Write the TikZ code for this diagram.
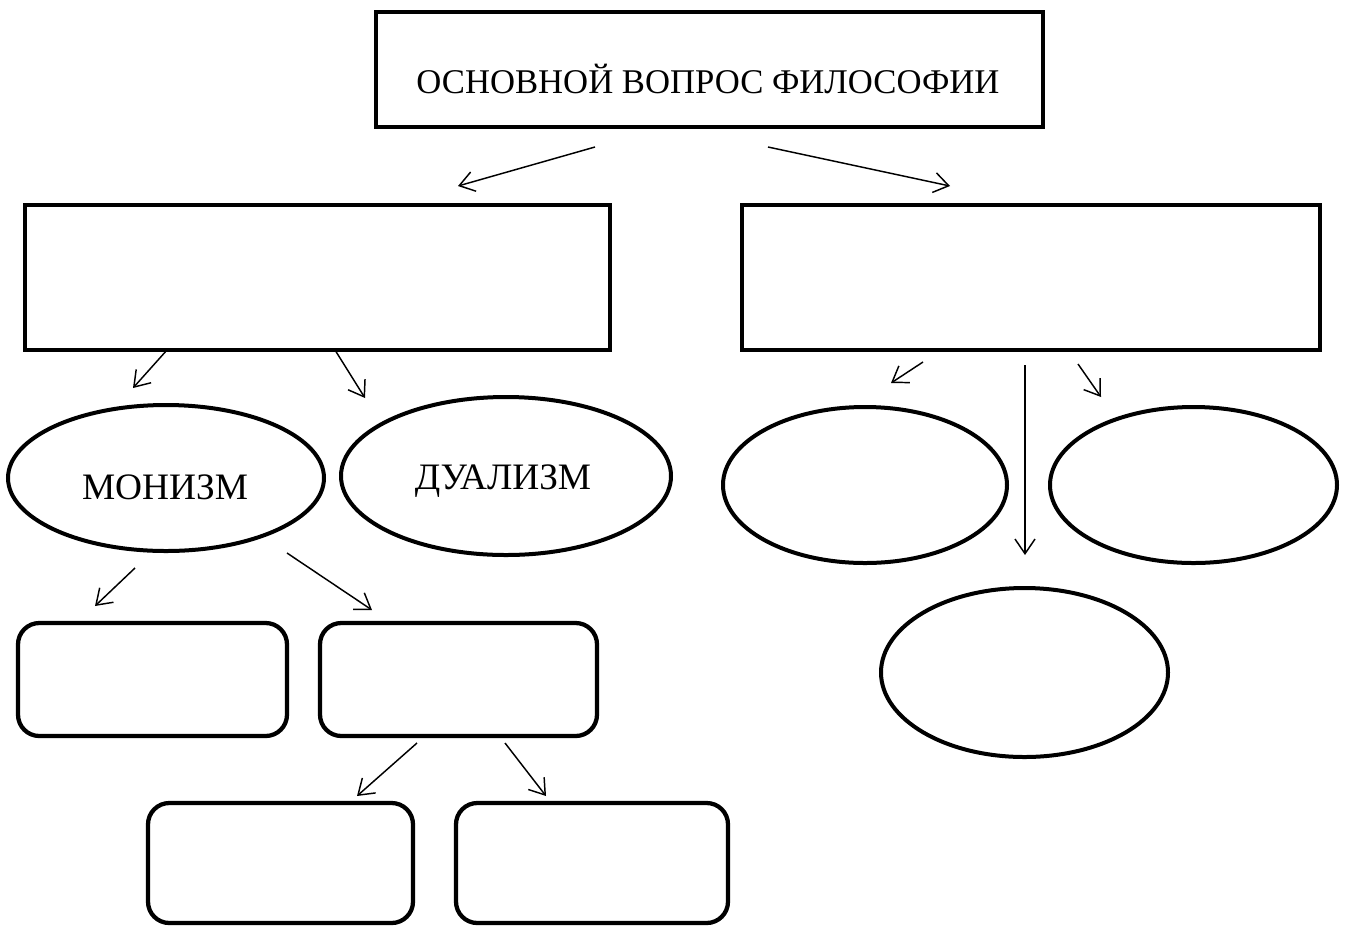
\documentclass[tikz,border=0pt]{standalone}
\usepackage{fontspec}
\setmainfont{Liberation Serif}
\usetikzlibrary{arrows.meta,shapes.geometric}
\begin{document}
\begin{tikzpicture}[x=0.75pt,y=-0.75pt,
  sqbox/.style={draw,line width=3.6pt,rectangle,inner sep=0pt},
  rbox/.style={draw,line width=3.2pt,rectangle,rounded corners=16pt,inner sep=0pt},
  oval/.style={draw,line width=3pt,ellipse,inner sep=0pt},
  arr/.style={-{Straight Barb[length=11pt,width=15pt,line width=1.1pt]},line width=1.1pt},
  lbl/.style={font=\fontsize{26}{30}\selectfont},
  elbl/.style={font=\fontsize{28}{32}\selectfont}]
\useasboundingbox (0,0) rectangle (1349,926);
\fill[white] (0,0) rectangle (1349,926);
% boxes
\node[sqbox,minimum width=667*0.75pt,minimum height=115*0.75pt] (top) at (709.5,69.5) {};
\node[lbl] (toptext) at (708,79) {ОСНОВНОЙ ВОПРОС ФИЛОСОФИИ};
\node[sqbox,minimum width=585*0.75pt,minimum height=145*0.75pt] (L) at (317.5,277.5) {};
\node[sqbox,minimum width=578*0.75pt,minimum height=145*0.75pt] (R) at (1031,277.5) {};
% ellipses left
\node[oval,minimum width=316*0.75pt,minimum height=146*0.75pt] (mon) at (166,478) {};
\node[elbl] (montext) at (165,487) {МОНИЗМ};
\node[oval,minimum width=330*0.75pt,minimum height=158*0.75pt] (dual) at (506,476) {};
\node[elbl] (dualtext) at (503,481) {ДУАЛИЗМ};
% rounded boxes
\node[rbox,minimum width=269*0.75pt,minimum height=113*0.75pt] (m1) at (152.5,679.5) {};
\node[rbox,minimum width=277*0.75pt,minimum height=113*0.75pt] (m2) at (458.5,679.5) {};
\node[rbox,minimum width=265*0.75pt,minimum height=120*0.75pt] (b1) at (280.5,863) {};
\node[rbox,minimum width=272*0.75pt,minimum height=120*0.75pt] (b2) at (592,863) {};
% right ellipses
\node[oval,minimum width=284*0.75pt,minimum height=156*0.75pt] (e1) at (865,485) {};
\node[oval,minimum width=287*0.75pt,minimum height=156*0.75pt] (e2) at (1193.5,485) {};
\node[oval,minimum width=287*0.75pt,minimum height=169*0.75pt] (e3) at (1024.5,672.5) {};
% arrow end points
\coordinate (a1s) at (595,147); \coordinate (a1e) at (458,186);
\coordinate (a2s) at (768,147); \coordinate (a2e) at (950,186);
\coordinate (a3s) at (167,350); \coordinate (a3e) at (133,388);
\coordinate (a4s) at (335,350); \coordinate (a4e) at (365,398);
\coordinate (a5s) at (135,568); \coordinate (a5e) at (95,606);
\coordinate (a6s) at (287,553); \coordinate (a6e) at (372,610);
\coordinate (a7s) at (417,743); \coordinate (a7e) at (357,796);
\coordinate (a8s) at (505,743); \coordinate (a8e) at (546,796);
\coordinate (a9s) at (923,362); \coordinate (a9e) at (891,383);
\coordinate (a10s) at (1078,364); \coordinate (a10e) at (1101,397);
\coordinate (a11s) at (1025,365); \coordinate (a11e) at (1025,555);
\foreach \i in {1,...,11} \draw[arr] (a\i s) -- (a\i e);
\end{tikzpicture}
\end{document}
